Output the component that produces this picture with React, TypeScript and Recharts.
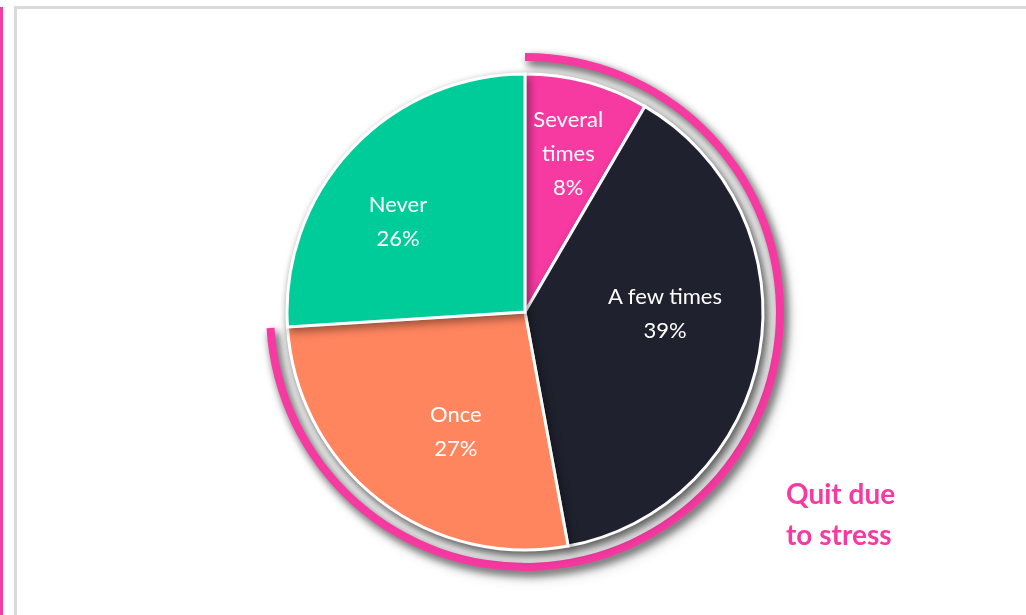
import { Cell, Pie, PieChart } from 'recharts';

const categories = ['Several times', 'A few times', 'Once', 'Never'];
const shares = [8.4, 38.7, 26.9, 26.0];
const quitGroups = ['Quit due to stress', 'Never quit'];
const calloutLines = ['Quit due', 'to stress'];

const COLORS = ['#f739a2', '#1f212e', '#ff855f', '#00cc99'];
const PINK = '#f739a2';

// small nudges so the labels sit where the original put them
const LABEL_TWEAKS = [
    { shift: 0, r: 166 },
    { shift: 10, r: 140 },
    { shift: 7.7, r: 137 },
    { shift: 7.2, r: 157 },
];

const RAD = Math.PI / 180;

const data = categories.map((name, i) => ({ name, value: shares[i] }));
const total = shares.reduce((a, b) => a + b, 0);
const arcData = [
    { name: quitGroups[0], value: shares[0] + shares[1] + shares[2] },
    { name: quitGroups[1], value: shares[3] },
];

function SliceLabel(props: any) {
    const { cx, cy, midAngle, index, value, name } = props;
    const tw = LABEL_TWEAKS[index] ?? { shift: 0, r: 140 };
    const a = -(midAngle + tw.shift) * RAD;
    const x = cx + tw.r * Math.cos(a);
    const y = cy + tw.r * Math.sin(a);
    const pct = `${Math.round((value / total) * 100)}%`;
    const lines = value / total < 0.1 ? [...name.split(' '), pct] : [name, pct];
    const lh = 34;
    const top = y - ((lines.length - 1) * lh) / 2;
    return (
        <text
            x={x}
            y={top}
            textAnchor="middle"
            dominantBaseline="central"
            fill="#ffffff"
            fontSize={22}
            fontFamily="Lato, sans-serif"
        >
            {lines.map((l: string, i: number) => (
                <tspan key={i} x={x} y={top + i * lh}>
                    {l}
                </tspan>
            ))}
        </text>
    );
}

export default function App() {
    return (
        <div
            style={{
                position: 'absolute',
                left: 0,
                top: 0,
                width: 1026,
                height: 615,
                overflow: 'hidden',
                background: '#ffffff',
            }}
        >
            <style>{`.shadowed { filter: drop-shadow(3px 4px 4px rgba(0,0,0,0.4)); }`}</style>
            <div
                style={{
                    position: 'absolute',
                    left: 0,
                    top: 7,
                    width: 3,
                    height: 620,
                    background: PINK,
                }}
            />
            <div
                style={{
                    position: 'absolute',
                    left: 14,
                    top: 6,
                    width: 1030,
                    height: 620,
                    border: '3px solid #dadada',
                }}
            />
            <div style={{ position: 'absolute', left: 0, top: 0 }}>
                <PieChart
                    width={1026}
                    height={615}
                    margin={{ top: 0, right: 0, bottom: 0, left: 0 }}
                >
                    <Pie
                        data={arcData}
                        dataKey="value"
                        cx={525}
                        cy={312}
                        innerRadius={251}
                        outerRadius={259}
                        startAngle={90}
                        endAngle={-270}
                        stroke="none"
                        className="shadowed"
                        isAnimationActive={false}
                    >
                        <Cell fill={PINK} />
                        <Cell fill="none" />
                    </Pie>
                    <Pie
                        data={data}
                        dataKey="value"
                        cx={525}
                        cy={312}
                        outerRadius={238}
                        startAngle={90}
                        endAngle={-270}
                        stroke="#ffffff"
                        strokeWidth={3}
                        labelLine={false}
                        label={SliceLabel}
                        className="shadowed"
                        isAnimationActive={false}
                    >
                        {data.map((d, i) => (
                            <Cell key={d.name} fill={COLORS[i]} />
                        ))}
                    </Pie>
                </PieChart>
            </div>
            <div
                style={{
                    position: 'absolute',
                    left: 786,
                    top: 473,
                    color: PINK,
                    fontFamily: 'Lato, sans-serif',
                    fontWeight: 700,
                    fontSize: 28,
                    lineHeight: '41px',
                }}
            >
                {calloutLines.map((l) => (
                    <div key={l}>{l}</div>
                ))}
            </div>
        </div>
    );
}
